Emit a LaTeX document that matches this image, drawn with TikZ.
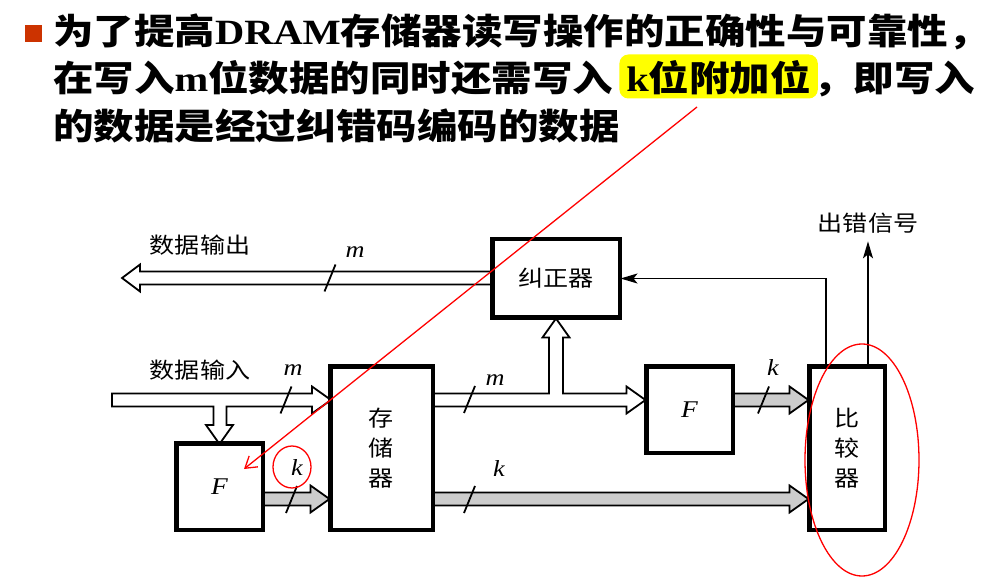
\documentclass[tikz,border=0pt]{standalone}
\usepackage{fontspec}
\newfontfamily\cjk{Noto Sans CJK SC}[FakeStretch=1.14]
\newfontfamily\tnr{Liberation Serif}[FakeStretch=1.14]
\usetikzlibrary{arrows.meta,calc}

\definecolor{bulletred}{RGB}{204,51,0}
\definecolor{busgray}{RGB}{204,204,204}
\definecolor{markred}{RGB}{255,0,0}
\definecolor{hilite}{RGB}{255,255,0}

\tikzset{
  titletext/.style={anchor=base west, inner sep=0pt, font=\fontsize{35.5}{42}\selectfont\bfseries},
  block/.style={draw, line width=3pt, fill=white, inner sep=0pt, align=center,
                font=\cjk\fontsize{22}{30}\selectfont},
  lbl/.style={inner sep=0pt, font=\cjk\fontsize{22}{26}\selectfont},
  var/.style={inner sep=0pt, font=\tnr\itshape\fontsize{23}{26}\selectfont},
  hollowbus/.style={draw, line width=1.8pt, fill=white, line join=miter},
  graybus/.style={draw, line width=1.8pt, fill=busgray, line join=miter},
  signal/.style={draw, line width=1.6pt, -{Stealth[length=17pt,width=10pt,inset=4pt]}},
  note/.style={draw=markred, line width=1.3pt},
  slash/.pic={\draw[line width=1.8pt] (-5.5,13.5) -- (5.5,-13.5);}
}

% horizontal bus arrow from #2 to the tip #3 (tip on the right)
\newcommand\busright[3]{%
  \path[#1] let \p1=(#2), \p2=(#3) in
    (\x1,\y2+6.5pt) -- (\x2-19pt,\y2+6.5pt) -- (\x2-19pt,\y2+13.5pt) -- (\p2)
    -- (\x2-19pt,\y2-13.5pt) -- (\x2-19pt,\y2-6.5pt) -- (\x1,\y2-6.5pt) -- cycle;}

\begin{document}
\begin{tikzpicture}[x=1pt,y=-1pt]
\useasboundingbox (0,0) rectangle (994,580);

% ---- heading ----
\fill[bulletred] (25,25) rectangle (42,42);
\node[titletext] (t1) at (53,44.5) {\cjk 为了提高\tnr DRAM\cjk 存储器读写操作的正确性与可靠性，};
\node[titletext] (t2a) at (53,91.5) {\cjk 在写入\tnr m\cjk 位数据的同时还需写入};
\node[titletext, fill=hilite, rounded corners=9pt, inner xsep=7pt, inner ysep=2pt,
      text height=35pt, text depth=5pt] (t2b) at ($(t2a.base east)+(6,0)$) {\tnr k\cjk 位附加位};
\node[titletext] (t2c) at ($(t2b.base east)+(-5,0)$) {\cjk ，即写入};
\node[titletext] (t3) at (53,139.5) {\cjk 的数据是经过纠错码编码的数据};

% ---- blocks ----
\coordinate (inL) at (112,400);
\coordinate (outL) at (122,278);
\coordinate (yMid) at (0,400);
\coordinate (yLow) at (0,499);

\path (219.5,486.5) coordinate (cF1);
\path (381.5,448) coordinate (cMem);
\path (556,278.5) coordinate (cCor);
\path (689.5,409.5) coordinate (cF2);
\path (847,448) coordinate (cCmp);

% data input bus, branching down into the encoder
\path[hollowbus] let \p1=(inL), \p2=(331,400), \p3=(219.5,444) in
  (\x1,\y2+6.5pt) -- (\x2-19pt,\y2+6.5pt) -- (\x2-19pt,\y2+13.5pt) -- (\p2)
  -- (\x2-19pt,\y2-13.5pt) -- (\x2-19pt,\y2-6.5pt) -- (\x3+7pt,\y2-6.5pt)
  -- (\x3+7pt,\y3+19pt) -- (\x3+13.5pt,\y3+19pt) -- (\p3) -- (\x3-13.5pt,\y3+19pt)
  -- (\x3-6pt,\y3+19pt) -- (\x3-6pt,\y2-6.5pt) -- (\x1,\y2-6.5pt) -- cycle;

\node[block, minimum width=85pt, minimum height=85pt] (F1) at (cF1) {\tnr\itshape\fontsize{24}{26}\selectfont F};
\node[block, minimum width=101pt, minimum height=162pt] (mem) at (cMem) {存\\储\\器};
\node[block, minimum width=126pt, minimum height=77pt] (cor) at (cCor) {纠正器};
\node[block, minimum width=85pt, minimum height=85pt] (F2) at (cF2) {\tnr\itshape\fontsize{24}{26}\selectfont F};
\node[block, minimum width=74pt, minimum height=162pt] (cmp) at (cCmp) {比\\较\\器};

% data output bus
\path[hollowbus] let \p1=(cor.west), \p2=(outL) in
  (\x1,\y2+6.5pt) -- (\x2+18pt,\y2+6.5pt) -- (\x2+18pt,\y2+13.5pt) -- (\p2)
  -- (\x2+18pt,\y2-13.5pt) -- (\x2+18pt,\y2-6.5pt) -- (\x1,\y2-6.5pt) -- cycle;

% memory output bus, branching up into the corrector
\path[hollowbus] let \p1=(mem.east), \p2=(F2.west |- yMid), \p3=(cor.south) in
  (\x1,\y2+6.5pt) -- (\x3-7pt,\y2+6.5pt) -- (\x3-7pt,\y3-19pt) -- (\x3-13.5pt,\y3-19pt)
  -- (\p3) -- (\x3+13.5pt,\y3-19pt) -- (\x3+7pt,\y3-19pt) -- (\x3+7pt,\y2+6.5pt)
  -- (\x2-19pt,\y2+6.5pt) -- (\x2-19pt,\y2+13.5pt) -- (\p2) -- (\x2-19pt,\y2-13.5pt)
  -- (\x2-19pt,\y2-6.5pt) -- (\x1,\y2-6.5pt) -- cycle;

% check-bit buses
\busright{graybus}{F1.east}{mem.west |- yLow}
\busright{graybus}{mem.east}{cmp.west |- yLow}
\busright{graybus}{F2.east}{cmp.west |- yMid}

% redraw block borders over bus ends
\draw[line width=3pt] (F1.south west) rectangle (F1.north east);
\draw[line width=3pt] (mem.south west) rectangle (mem.north east);
\draw[line width=3pt] (cor.south west) rectangle (cor.north east);
\draw[line width=3pt] (F2.south west) rectangle (F2.north east);
\draw[line width=3pt] (cmp.south west) rectangle (cmp.north east);

% width marks and labels
\pic at (330,278) {slash};
\pic at (286,400) {slash};
\pic at (291.5,499.5) {slash};
\pic at (469.5,399.5) {slash};
\pic at (469.5,499.5) {slash};
\pic at (763.5,400) {slash};
\node[var] (mOut) at (355,252) {m};
\node[var] (mIn) at (293,370) {m};
\node[var] (kF1) at (297,468) {k};
\node[var] (mMem) at (495,380) {m};
\node[var] (kMem) at (499,469) {k};
\node[var] (kF2) at (773,368) {k};

\node[lbl] (dout) at (200,245) {数据输出};
\node[lbl] (din) at (200,370) {数据输入};
\node[lbl] (err) at (868,223) {出错信号};

% control lines
\coordinate (fb) at (826,278.5);
\draw[signal] (cmp.north -| fb) |- (cor.east);
\draw[signal] (cmp.north -| err) -- ($(err.south)+(0,8)$);

% annotations
\coordinate (hl) at (697,107);
\coordinate (hlEnd) at (244,469);
\draw[note, -{Straight Barb[length=11pt,width=14pt]}] (hl) -- (hlEnd);
\draw[note] (kF1) ++(-5,-1) ellipse [x radius=19pt, y radius=21pt];
\draw[note] (cmp) ++(15,12) ellipse [x radius=57pt, y radius=116pt];
\end{tikzpicture}
\end{document}
